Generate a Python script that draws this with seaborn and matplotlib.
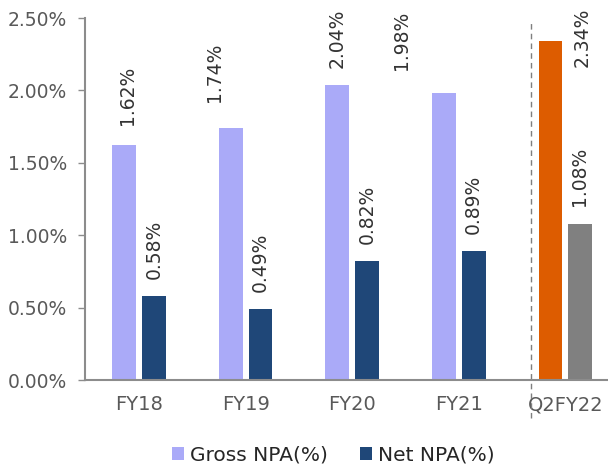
import matplotlib
matplotlib.use("Agg")
import matplotlib.pyplot as plt
from matplotlib.patches import Patch
from matplotlib.ticker import FuncFormatter
import seaborn as sns
import pandas as pd

# Asset quality by period (%)
periods = ["FY18", "FY19", "FY20", "FY21", "Q2FY22"]
gross_npa = [1.62, 1.74, 2.04, 1.98, 2.34]
net_npa = [0.58, 0.49, 0.82, 0.89, 1.08]
series_names = ["Gross NPA(%)", "Net NPA(%)"]
y_ticks = [0.0, 0.5, 1.0, 1.5, 2.0, 2.5]

# Colours
c_gross = "#AAAAF8"
c_net = "#1F4778"
c_gross_latest = "#DD5C00"
c_net_latest = "#808080"

# Where the rotated value labels sit (x offset from category, y of text base)
gross_label_dx = [-0.11, -0.29, -0.14, -0.54, 0.16]
gross_label_y = [1.76, 1.92, 2.155, 2.14, 2.16]
net_label_dx = [0.14, 0.14, 0.14, 0.14, 0.13]
net_label_pad = 0.12

df = pd.DataFrame({
    "period": periods * 2,
    "value": gross_npa + net_npa,
    "series": [series_names[0]] * len(periods) + [series_names[1]] * len(periods),
})

sns.set_style("white")
plt.rcParams["font.family"] = ["DejaVu Sans"]

fig = plt.figure(figsize=(6.08, 4.70), dpi=100)
ax = fig.add_axes([85 / 608, 90 / 470, 1 - 85 / 608, 362 / 470])

sns.barplot(data=df, x="period", y="value", hue="series", order=periods,
            hue_order=series_names, palette=[c_gross, c_net],
            width=0.56, gap=0.2, ax=ax, legend=False, saturation=1)

# Latest quarter bars get their own colours
ax.containers[0][-1].set_facecolor(c_gross_latest)
ax.containers[1][-1].set_facecolor(c_net_latest)
for cont in ax.containers:
    for p in cont:
        p.set_edgecolor("none")

ax.set_xlim(-0.507, 4.40)
ax.set_ylim(0, 2.5)
ax.set_yticks(y_ticks)
ax.yaxis.set_major_formatter(FuncFormatter(lambda v, _: f"{v:.2f}%"))
ax.set_xlabel("")
ax.set_ylabel("")

# Value labels
label_kw = dict(rotation=90, ha="center", va="bottom", fontsize=13.5, color="#333333")
for i, v in enumerate(gross_npa):
    ax.text(i + gross_label_dx[i], gross_label_y[i], f"{v:.2f}%", **label_kw)
for i, v in enumerate(net_npa):
    ax.text(i + net_label_dx[i], v + net_label_pad, f"{v:.2f}%", **label_kw)

# Separator before the latest quarter
ax.axvline(3.68, ymin=-0.105, ymax=0.986, color="#7f7f7f", lw=1.0,
           ls=(0, (4, 3)), clip_on=False)

for s in ["top", "right"]:
    ax.spines[s].set_visible(False)
for s in ["left", "bottom"]:
    ax.spines[s].set_color("#8c8c8c")
    ax.spines[s].set_linewidth(1.5)

ax.tick_params(axis="y", left=True, length=5, width=1, color="#8c8c8c",
               labelsize=13.5, labelcolor="#595959", pad=8)
ax.tick_params(axis="x", bottom=False, length=0, labelsize=14,
               labelcolor="#595959", pad=11)

handles = [Patch(facecolor=c_gross, edgecolor="none"),
           Patch(facecolor=c_net, edgecolor="none")]
fig.legend(handles, series_names, loc="center", bbox_to_anchor=(333 / 608, 15 / 470),
           ncol=2, frameon=False, fontsize=14.5, handlelength=0.6, handleheight=0.6,
           handletextpad=0.3, columnspacing=1.6, borderaxespad=0, borderpad=0)

fig.savefig("out.png", dpi=100)
